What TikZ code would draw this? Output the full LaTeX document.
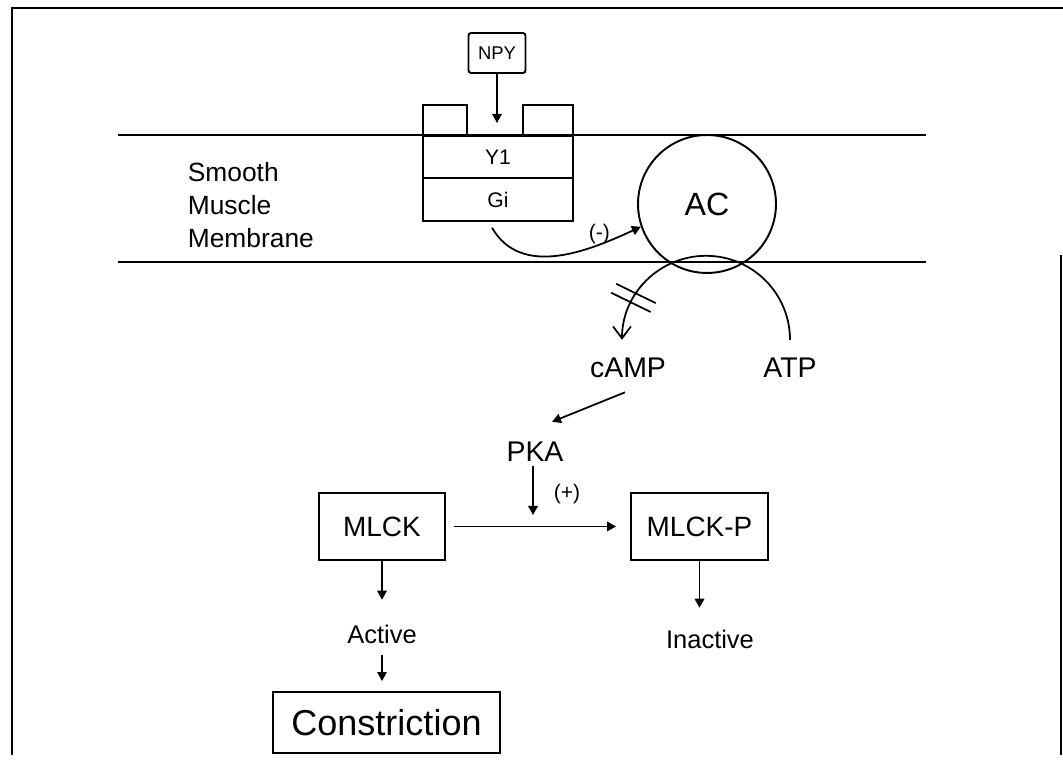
\documentclass[tikz,border=0pt]{standalone}
\usepackage{fontspec}
\setmainfont{Liberation Sans}
\usetikzlibrary{arrows.meta,positioning}

\begin{document}
\begin{tikzpicture}[
  x=0.02cm, y=0.02cm,
  line width=1pt,
  box/.style={
    draw=black,
    line width=1.1pt,
    inner sep=0pt,
    minimum height=1.34cm,
    font=\fontsize{15.9}{18}\selectfont
  },
  layer/.style={
    draw=black,
    line width=1.1pt,
    inner sep=0pt,
    outer sep=0pt,
    minimum width=3cm,
    minimum height=0.85cm,
    font=\fontsize{12}{14}\selectfont
  },
  big/.style={inner sep=2pt, font=\fontsize{16.2}{18}\selectfont},
  state/.style={inner sep=2pt, font=\fontsize{14.5}{16}\selectfont},
  sign/.style={inner sep=0pt, font=\fontsize{12}{14}\selectfont},
  arrow/.style={-{Triangle[length=1.8mm,width=1.9mm]}, line width=1pt},
  barb/.style={-{Straight Barb[length=2.4mm,width=3.6mm]}, line width=1pt}
]

\useasboundingbox (0,0) rectangle (1063,763);

% frame and membrane
\draw[line width=1.3pt] (12,8) -- (12,755) -- (1063,755);
\draw[line width=1.3pt] (1061,508) -- (1061,8);
\draw[line width=1.2pt] (118,628) -- (926,628);
\draw[line width=1.2pt] (118,501) -- (926,501);

\node[align=left, anchor=west, inner sep=0pt, font=\fontsize{15}{18.8}\selectfont] (memb) at (187,558) {Smooth\\Muscle\\Membrane};

% receptor
\node[layer] (y1) at (498,606) {Y1};
\node[layer, below=0pt of y1] (gi) {Gi};
\draw[line width=1.1pt] (y1.north west) -- ++(0,31) -- ++(44,0) -- ++(0,-31)
  (y1.north east) -- ++(0,31) -- ++(-50,0) -- ++(0,-31);

\node[draw, rounded corners=1.5pt, line width=1.1pt, minimum width=1.14cm, minimum height=0.8cm, inner sep=0pt, font=\fontsize{10.5}{12}\selectfont] (npy) at (497,710) {NPY};
\coordinate (site) at (497,640);
\draw[arrow] (npy) -- (site);

% adenylate cyclase
\node[circle, draw, line width=1.1pt, minimum size=2.76cm, inner sep=0pt, font=\fontsize{18.3}{20}\selectfont] (ac) at (707,559) {AC};
\draw[arrow] ([shift={(-6,-7)}]gi.south) to[out=-60, in=205] node[sign, pos=0.75, above] (minus) {(-)} (ac.199);

% ATP to cAMP
\node[big] (atp) at (790,395) {ATP};
\node[big] (camp) at (628,395) {cAMP};
\coordinate (arcc) at ([shift={(-84,14)}]atp.north);
\draw[barb] ([shift={(0,14)}]atp.north) arc[start angle=0, end angle=180, radius=84];
\foreach \a in {146.5,153.5}
  \draw[line width=1pt] ([shift={(\a:84)}]arcc) ++(154:22) -- ++(-26:44);

\node[big] (pka) at (535,311) {PKA};
\draw[arrow] ([shift={(-3,-10)}]camp.south) -- ([shift={(17,16)}]pka.north);

% MLCK
\node[box, minimum width=2.52cm] (mlck) at (382,236.5) {MLCK};
\node[box, minimum width=2.74cm] (mlckp) at (699.5,236.5) {MLCK-P};
\draw[arrow, shorten <=1.6mm, shorten >=2.8mm] (mlck) -- (mlckp);

\coordinate (mid) at (533,248);
\draw[arrow] (pka.south -| mid) -- (mid) node[sign, pos=0.58, right=4mm] (plus) {(+)};

% outputs
\node[state] (active) at (382,129) {Active};
\node[state] (inactive) at (710,124) {Inactive};
\node[draw, line width=1.1pt, minimum width=4.54cm, minimum height=1.22cm, inner sep=0pt, font=\fontsize{20.5}{24}\selectfont] (constr) at (386.5,40.5) {Constriction};

\draw[arrow, shorten >=4.1mm] (mlck) -- (active);
\draw[arrow, shorten <=1.5mm, shorten >=2mm] (active) -- (active |- constr.north);
\draw[arrow, shorten >=3.5mm] (mlckp) -- (mlckp.south |- inactive.north);

\end{tikzpicture}
\end{document}
